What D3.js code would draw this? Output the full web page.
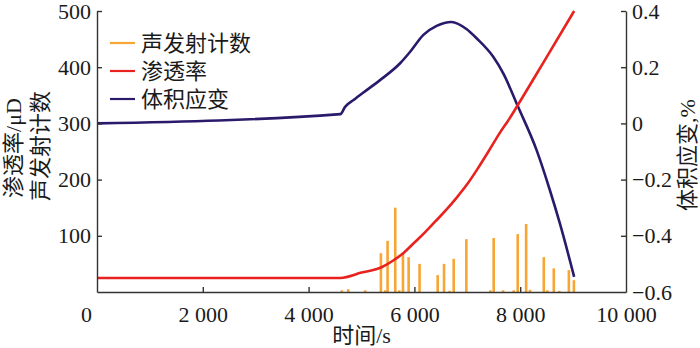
<!DOCTYPE html>
<html>
<head>
<meta charset="utf-8">
<script src="https://cdn.jsdelivr.net/npm/d3@7"></script>
<style>
html,body{margin:0;padding:0;background:#fff;}
svg text{font-family:"Liberation Serif","Noto Sans CJK SC",serif;fill:#1a1a1a;}
</style>
</head>
<body>
<svg id="chart" width="700" height="348"></svg>
<script>
// ---- data ----
const aeTime = [4627, 4749, 5071, 5367, 5450, 5493, 5638, 5714, 5784, 5891, 6098, 6440, 6560, 6665, 6743, 6982, 7436, 7499, 7676, 7877, 7953, 8112, 8185, 8446, 8512, 8635, 8740, 8920, 9015];
const aeCount = [3, 5, 3, 69, 3, 91, 150, 3, 70, 62, 50, 30, 50, 2, 59, 94, 3, 96, 3, 3, 103, 121, 4, 62, 3, 42, 2, 39, 21];

const permTime = [0, 4600, 5000, 5380, 5600, 5800, 6000, 6200, 6400, 6600, 6800, 7000, 7200, 7400, 7600, 7800, 7964, 8500, 9020];
const permValue = [25, 25, 34.5, 44, 56, 70, 88, 106, 126, 146, 168, 192, 220, 250, 281, 309, 334, 418, 500];

const strainTime = [0, 4600, 4690, 4850, 5030, 5350, 5730, 5920, 6170, 6420, 6700, 6990, 7180, 7490, 7680, 7960, 8310, 8560, 8750, 9020];
const strainValue = [0, 0.033, 0.059, 0.083, 0.109, 0.154, 0.214, 0.255, 0.315, 0.347, 0.361, 0.335, 0.302, 0.237, 0.178, 0.059, -0.095, -0.237, -0.356, -0.546];

const xTicks = [0, 2000, 4000, 6000, 8000, 10000];
const yLeftTicks = [100, 200, 300, 400, 500];
const yRightTicks = [-0.6, -0.4, -0.2, 0, 0.2, 0.4];
const legendLabels = ["声发射计数", "渗透率", "体积应变"];
const colors = ["#F7A535", "#E8231F", "#2B1A6B"];

// ---- chart ----
const svg = d3.select("#chart");
const L = 97, R = 626, T = 11, B = 292;
const x = d3.scaleLinear().domain([0, 10000]).range([L, R]);
const yL = d3.scaleLinear().domain([0, 500]).range([B, T]);
const yR = d3.scaleLinear().domain([-0.6, 0.4]).range([B, T]);
const axisColor = "#333";
const fs = 22;

// bars
svg.append("g").selectAll("rect").data(aeTime).join("rect")
  .attr("x", (d) => x(d) - 1.3)
  .attr("width", 2.6)
  .attr("y", (d, i) => yL(aeCount[i]))
  .attr("height", (d, i) => B - yL(aeCount[i]))
  .attr("fill", colors[0]);

// strain line
const strainData = strainTime.map((t, i) => [t, strainValue[i]]);
svg.append("path").datum(strainData)
  .attr("fill", "none").attr("stroke", colors[2]).attr("stroke-width", 2.6)
  .attr("stroke-linejoin", "round")
  .attr("d", d3.line().x(d => x(d[0])).y(d => yR(d[1])).curve(d3.curveMonotoneX));

// permeability line
const permData = permTime.map((t, i) => [t, permValue[i]]);
svg.append("path").datum(permData)
  .attr("fill", "none").attr("stroke", colors[1]).attr("stroke-width", 2.6)
  .attr("stroke-linejoin", "round")
  .attr("d", d3.line().x(d => x(d[0])).y(d => yL(d[1])).curve(d3.curveMonotoneX));

// axes
const fmtX = d => d === 0 ? "0" : d3.format(",")(d).replace(/,/g, " ");
const gx = svg.append("g").attr("transform", `translate(0,${B})`)
  .call(d3.axisBottom(x).tickValues(xTicks).tickFormat(fmtX).tickSizeInner(-5).tickSizeOuter(0).tickPadding(10));
gx.selectAll("text").attr("font-size", fs).attr("dy", "0.9em")
  .attr("dx", d => d === 0 ? -11 : 0);
gx.selectAll(".tick").filter(d => d === 0 || d === 10000).select("line").remove();

const gl = svg.append("g").attr("transform", `translate(${L},0)`)
  .call(d3.axisLeft(yL).tickValues(yLeftTicks).tickSizeInner(-5).tickSizeOuter(0).tickPadding(6));
gl.selectAll("text").attr("font-size", fs);

const fmtR = d => d === 0 ? "0" : (d < 0 ? "\u2212" : "") + Math.abs(d).toFixed(1);
const gr = svg.append("g").attr("transform", `translate(${R},0)`)
  .call(d3.axisRight(yR).tickValues(yRightTicks).tickFormat(fmtR).tickSizeInner(-5).tickSizeOuter(0).tickPadding(6));
gr.selectAll("text").attr("font-size", fs);
gr.selectAll(".tick").filter(d => d === -0.6).select("line").remove();

[gx, gl, gr].forEach(g => {
  g.select(".domain").attr("stroke", axisColor).attr("stroke-width", 1.4);
  g.selectAll(".tick line").attr("stroke", axisColor).attr("stroke-width", 1.4);
  g.selectAll("text").attr("fill", "#1a1a1a").attr("font-family", "'Liberation Serif','Noto Sans CJK SC',serif");
});

// axis titles
svg.append("text").attr("transform", "translate(13,148) rotate(-90)")
  .attr("text-anchor", "middle").attr("dominant-baseline", "central").attr("font-size", fs)
  .text("渗透率/μD");
svg.append("text").attr("transform", "translate(40,146) rotate(-90)")
  .attr("text-anchor", "middle").attr("dominant-baseline", "central").attr("font-size", fs)
  .text("声发射计数");
svg.append("text").attr("transform", "translate(687,155) rotate(-90)")
  .attr("text-anchor", "middle").attr("dominant-baseline", "central").attr("font-size", fs)
  .text("体积应变,%");
svg.append("text").attr("x", (L + R) / 2).attr("y", 335)
  .attr("text-anchor", "middle").attr("dominant-baseline", "central").attr("font-size", fs)
  .text("时间/s");

// legend
const lg = svg.append("g");
legendLabels.forEach((lab, i) => {
  const yy = 43 + i * 28;
  lg.append("line").attr("x1", 110).attr("x2", 135).attr("y1", yy).attr("y2", yy)
    .attr("stroke", colors[i]).attr("stroke-width", 2.2);
  lg.append("text").attr("x", 141).attr("y", yy).attr("dominant-baseline", "central")
    .attr("font-size", fs).text(lab);
});
</script>
</body>
</html>
